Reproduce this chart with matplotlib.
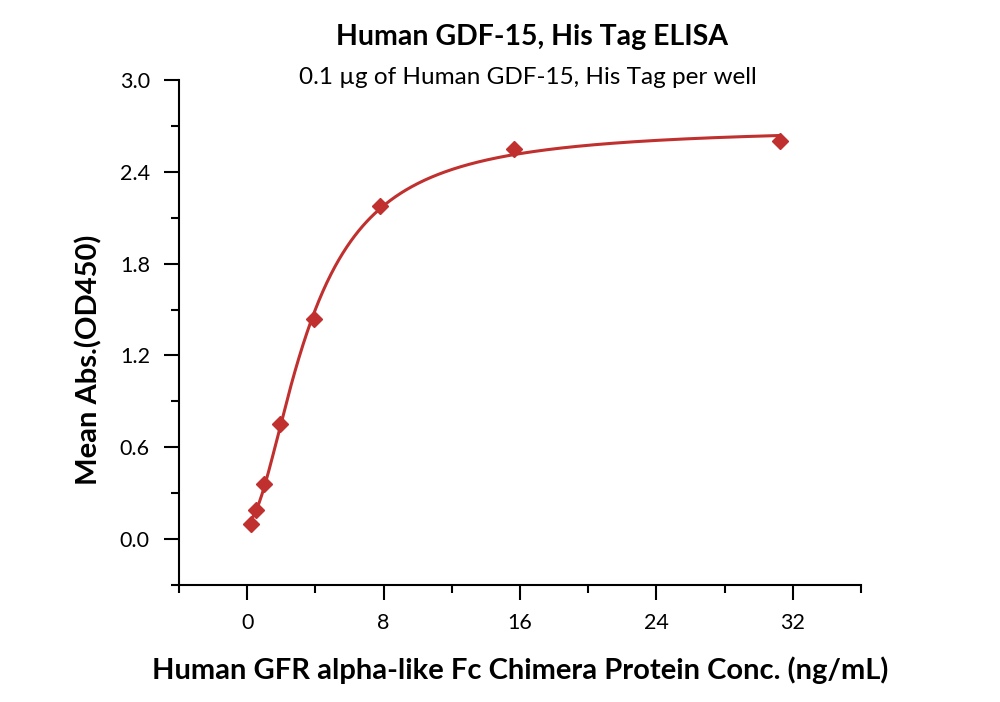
import numpy as np
import matplotlib
matplotlib.use("Agg")
import matplotlib.pyplot as plt
from matplotlib.ticker import MultipleLocator, FormatStrFormatter

plt.rcParams["font.family"] = ["Lato", "DejaVu Sans"]

# data
conc = [0.244, 0.488, 0.977, 1.953, 3.906, 7.813, 15.625, 31.25]
absorb = [0.098, 0.19, 0.36, 0.75, 1.44, 2.18, 2.55, 2.60]

TITLE = "Human GDF-15, His Tag ELISA"
SUBTITLE = "0.1 \u00b5g of Human GDF-15, His Tag per well"
XLABEL = "Human GFR alpha-like Fc Chimera Protein Conc. (ng/mL)"
YLABEL = "Mean Abs.(OD450)"
RED = "#c0302e"


def logistic4(x, p):
    a, b, c, d = p
    return d + (a - d) / (1.0 + (x / c) ** b)


def fit4pl(x, y, p0, n_iter=300):
    # small Levenberg-Marquardt, numerical jacobian
    p = np.array(p0, dtype=float)
    lam = 1e-2
    sse = lambda q: np.sum((y - logistic4(x, q)) ** 2)
    for _ in range(n_iter):
        r = y - logistic4(x, p)
        J = np.empty((len(x), len(p)))
        for j in range(len(p)):
            dp = np.zeros_like(p)
            dp[j] = 1e-6 * max(abs(p[j]), 1e-3)
            J[:, j] = (logistic4(x, p + dp) - logistic4(x, p - dp)) / (2 * dp[j])
        A = J.T @ J
        g = J.T @ r
        step = np.linalg.solve(A + lam * np.diag(np.diag(A)), g)
        p_new = p + step
        if p_new[2] > 0 and sse(p_new) < sse(p):
            p = p_new
            lam *= 0.3
        else:
            lam *= 10
    return p


x = np.array(conc)
y = np.array(absorb)
params = fit4pl(x, y, [0.0, 1.5, 5.0, 2.6])
xs = np.linspace(x.min(), x.max(), 400)

fig = plt.figure(figsize=(10, 7.02), dpi=100)
ax = fig.add_axes([0.179, 0.1667, 0.682, 0.7193])

ax.plot(xs, logistic4(xs, params), color=RED, lw=2.2)
ax.plot(x, y, "D", color=RED, ms=8.5, mec=RED)

ax.set_xlim(-4, 36)
ax.set_ylim(-0.3, 3.0)
ax.xaxis.set_minor_locator(MultipleLocator(4))
ax.yaxis.set_minor_locator(MultipleLocator(0.3))
ax.set_xticks([0, 8, 16, 24, 32])
ax.set_yticks([0.0, 0.6, 1.2, 1.8, 2.4, 3.0])
ax.yaxis.set_major_formatter(FormatStrFormatter("%.1f"))

for s in ["top", "right"]:
    ax.spines[s].set_visible(False)
for s in ["left", "bottom"]:
    ax.spines[s].set_linewidth(1.5)
ax.tick_params(which="major", direction="out", length=11, width=1.5, labelsize=15.5)
ax.tick_params(which="minor", direction="out", length=5.5, width=1.5)
ax.tick_params(axis="x", pad=9)
ax.tick_params(axis="y", pad=10)

ax.set_xlabel(XLABEL, fontsize=21, fontweight="bold", va="center")
ax.xaxis.set_label_coords(0.5, -0.168)
ax.set_ylabel(YLABEL, fontsize=21, fontweight="bold", va="center")
ax.yaxis.set_label_coords(-0.132, 0.4455)
fig.text(0.532, 0.947, TITLE, ha="center", va="center", fontsize=20.5, fontweight="bold")
fig.text(0.528, 0.889, SUBTITLE, ha="center", va="center", fontsize=17.5)

fig.savefig("out.png", dpi=100)
